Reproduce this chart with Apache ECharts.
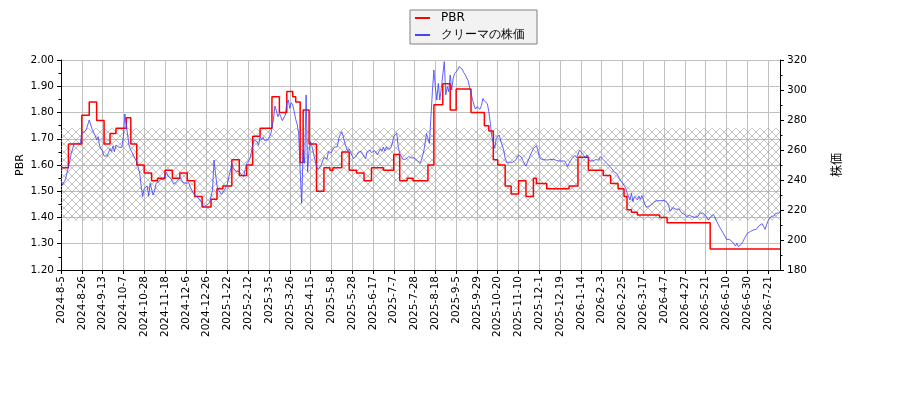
<!DOCTYPE html>
<html>
<head>
<meta charset="utf-8">
<script src="https://cdn.jsdelivr.net/npm/echarts@6/dist/echarts.min.js"></script>
<style>
html,body{margin:0;padding:0;background:#fff;}
#chart{width:900px;height:400px;}
</style>
</head>
<body>
<div id="chart"></div>
<script>
// Stock price (daily, trading days from 2024-8-5)
const price = [
240.0,236.7,237.3,240.4,244.4,248.9,253.3,258.2,257.3,264.4,
264.9,264.4,264.0,264.4,271.1,271.6,272.2,273.8,276.7,280.0,
278.9,273.8,274.4,269.6,266.7,268.9,262.7,262.7,258.9,256.0,
255.6,256.0,258.2,261.1,259.1,262.7,258.9,263.3,262.7,261.8,
262.7,261.8,268.9,284.0,276.7,268.9,262.2,260.0,258.9,256.0,
256.0,252.2,251.1,244.4,235.6,228.9,234.4,235.6,236.0,229.3,
237.8,238.9,230.0,232.7,237.8,238.2,238.9,240.4,240.7,240.4,
243.3,245.1,242.7,243.1,241.1,238.9,237.1,236.2,238.9,240.0,
241.8,240.4,238.4,238.4,237.8,237.1,238.2,235.3,233.3,232.2,
229.8,228.9,228.4,227.3,226.0,224.0,222.2,222.2,223.1,222.4,
224.9,226.2,233.3,253.3,244.4,236.2,233.3,232.2,230.4,230.9,
233.3,235.1,237.3,242.2,246.2,250.9,248.0,246.9,245.8,246.2,
245.6,244.0,243.1,242.2,
247.1,251.1,250.2,253.8,257.8,262.7,
266.7,267.3,265.6,263.1,268.9,266.9,268.4,266.4,267.1,266.7,
266.7,270.0,274.4,280.4,289.3,286.2,282.2,284.4,282.2,279.6,
280.0,283.3,291.1,293.3,287.8,291.6,290.0,285.6,280.4,277.1,
271.1,246.7,224.4,260.0,251.1,296.7,245.6,260.0,265.6,262.2,
261.1,253.3,249.3,247.1,247.6,249.6,252.4,255.1,256.0,253.8,
258.9,259.8,258.2,260.4,261.8,261.1,262.2,267.6,270.4,272.2,
268.9,264.9,261.8,259.1,260.7,260.4,256.0,254.2,253.3,256.4,
258.4,258.0,259.1,258.2,255.6,254.2,258.7,257.8,260.0,258.2,
258.7,259.6,258.9,256.9,256.7,260.7,259.1,262.0,259.3,262.2,
260.4,259.6,261.3,264.4,269.1,270.0,271.1,262.2,257.8,256.0,
253.8,252.7,253.8,254.7,255.6,255.6,254.7,255.3,254.7,253.8,
252.7,251.8,251.5,255.0,258.0,264.0,270.9,270.7,264.4,263.8,
298.9,313.3,302.2,293.3,304.4,293.3,301.1,300.0,318.9,296.7,
302.2,298.9,310.0,300.0,307.8,311.1,312.2,313.3,315.6,316.2,
314.0,311.8,310.4,309.6,306.2,302.2,297.8,293.8,290.0,287.3,
288.9,290.0,287.1,289.6,294.4,292.7,293.6,290.9,285.6,277.8,
268.9,270.0,261.1,267.8,268.2,270.0,266.0,265.1,260.0,254.4,
251.8,251.1,251.8,251.1,251.8,251.1,253.1,252.2,256.7,256.7,
255.1,252.7,252.2,249.3,251.8,252.7,256.7,257.8,260.9,262.0,
262.9,260.0,255.6,254.0,255.3,253.6,254.4,253.3,254.2,253.6,
254.0,253.8,253.3,253.3,253.3,252.7,253.3,252.7,253.1,252.7,
251.1,248.9,251.1,252.4,254.4,255.6,256.4,254.9,257.1,260.0,
259.8,257.6,256.2,254.7,256.7,254.7,252.7,253.1,252.7,252.9,
253.6,254.2,253.3,255.6,
255.6,253.6,252.4,251.6,250.4,249.6,
248.7,247.3,245.6,244.4,244.4,242.7,240.7,239.3,238.0,236.4,
234.9,231.8,228.9,226.7,231.1,225.6,228.9,230.0,226.7,229.3,
227.1,229.6,226.9,224.0,221.8,221.6,222.7,223.3,223.8,225.3,
224.4,226.2,226.7,226.2,226.2,226.4,226.4,226.0,225.3,223.3,
219.1,219.8,221.6,220.9,220.4,221.6,220.7,220.7,217.8,218.9,
217.1,215.6,216.0,216.4,216.0,215.6,215.1,215.1,215.6,216.0,
217.8,218.7,218.0,216.9,216.2,214.9,213.3,215.1,216.4,217.1,
215.6,213.3,211.3,209.3,207.5,206.7,204.2,202.4,200.4,200.7,
200.4,199.6,198.7,197.6,196.0,197.8,195.6,196.4,197.3,198.9,
200.9,202.7,204.4,205.6,205.6,206.4,206.7,206.7,207.1,208.4,
209.6,209.1,210.9,210.0,207.1,210.2,212.9,214.0,215.8,216.2,
216.0,217.8,216.7,218.0,218.7
];

// PBR steps: trading-day index where a new value starts, and the value
const pbrStart = [0,5,14,19,24,29,33,37,44,47,51,56,61,65,70,75,80,85,90,95,101,105,109,115,120,125,129,134,142,147,152,156,158,161,163,167,172,177,181,183,189,194,199,204,209,217,224,228,233,237,247,251,257,262,266,276,285,288,291,294,299,303,308,313,318,320,327,342,348,355,365,370,375,379,381,384,388,403,408,437,484];
const pbrValue = [1.59,1.68,1.79,1.84,1.77,1.68,1.72,1.74,1.78,1.68,1.60,1.57,1.54,1.55,1.58,1.55,1.57,1.54,1.48,1.44,1.47,1.51,1.52,1.62,1.56,1.60,1.71,1.74,1.86,1.80,1.88,1.86,1.84,1.61,1.81,1.68,1.50,1.59,1.58,1.59,1.65,1.58,1.57,1.54,1.59,1.58,1.64,1.54,1.55,1.54,1.60,1.83,1.91,1.81,1.89,1.80,1.75,1.73,1.62,1.60,1.52,1.49,1.54,1.48,1.55,1.53,1.51,1.52,1.63,1.58,1.56,1.53,1.51,1.48,1.43,1.42,1.41,1.40,1.38,1.28,1.28];

// Hatched band (PBR range)
const bandRange = [1.39, 1.74];

// Market holidays (TSE) in the period
const holidays = ['2024-08-12','2024-09-16','2024-09-23','2024-10-14','2024-11-04','2024-12-31','2025-01-01','2025-01-02','2025-01-03','2025-01-13','2025-02-11','2025-02-24','2025-03-20','2025-04-29','2025-05-05','2025-05-06','2025-07-21','2025-08-11','2025-09-15','2025-09-23','2025-10-13','2025-11-03','2025-11-24','2025-12-31','2026-01-01','2026-01-02','2026-01-12','2026-02-11','2026-02-23','2026-03-20','2026-04-29','2026-05-04','2026-05-05','2026-05-06','2026-07-20'];

// Build trading-day categories
const dates = [];
(function(){
  const hol = new Set(holidays);
  let d = new Date(Date.UTC(2024,7,5));
  while (dates.length < price.length) {
    const wd = d.getUTCDay();
    const y = d.getUTCFullYear(), m = d.getUTCMonth()+1, dd = d.getUTCDate();
    const key = y + '-' + String(m).padStart(2,'0') + '-' + String(dd).padStart(2,'0');
    if (wd !== 0 && wd !== 6 && !hol.has(key)) dates.push(y + '-' + m + '-' + dd);
    d = new Date(d.getTime() + 86400000);
  }
})();

const pbrData = pbrStart.map((s,i) => [dates[s], pbrValue[i]]);

// hatch pattern
const hatch = document.createElement('canvas');
hatch.width = 8; hatch.height = 8;
(function(){
  const c = hatch.getContext('2d');
  c.strokeStyle = '#a8a8a8';
  c.lineWidth = 0.7;
  c.beginPath();
  c.moveTo(0,0); c.lineTo(8,8);
  c.moveTo(8,0); c.lineTo(0,8);
  c.stroke();
})();

const FONT = 'DejaVu Sans';
const every14 = (idx) => idx % 14 === 0;

const chart = echarts.init(document.getElementById('chart'));
chart.setOption({
  animation: false,
  backgroundColor: '#ffffff',
  grid: { left: 61, right: 120, top: 60, bottom: 130 },
  legend: {
    orient: 'vertical', left: 410, top: 10,
    backgroundColor: '#f2f2f2', borderColor: '#808080', borderWidth: 1, borderRadius: 0,
    padding: [2, 12, 3, 5], itemGap: 5, itemWidth: 15, itemHeight: 2,
    textStyle: { fontFamily: FONT, fontSize: 12, color: '#000', padding: [0,0,0,6] },
    data: [{ name: 'PBR', icon: 'rect' }, { name: 'クリーマの株価', icon: 'rect' }]
  },
  xAxis: {
    type: 'category', data: dates, boundaryGap: false,
    axisLine: { lineStyle: { color: '#000', width: 1 } },
    axisTick: { interval: every14, length: 4, lineStyle: { color: '#000' } },
    axisLabel: { interval: every14, rotate: 90, fontFamily: FONT, fontSize: 10.5, color: '#000', margin: 6 },
    splitLine: { show: true, interval: every14, lineStyle: { color: '#c0c0c0', width: 1 } }
  },
  yAxis: [
    {
      type: 'value', min: 1.2, max: 2.0, interval: 0.1, position: 'left',
      name: 'PBR', nameLocation: 'middle', nameGap: 35, nameRotate: 90, nameMoveOverlap: false,
      nameTextStyle: { fontFamily: FONT, fontSize: 11, color: '#000' },
      axisLine: { show: true, lineStyle: { color: '#000' } },
      axisTick: { show: true, length: 4, lineStyle: { color: '#000' } },
      minorTick: { show: true, splitNumber: 2, length: 2.5, lineStyle: { color: '#000' } },
      axisLabel: { formatter: v => v.toFixed(2), fontFamily: FONT, fontSize: 10.5, color: '#000', margin: 7 },
      splitLine: { show: true, lineStyle: { color: '#c0c0c0', width: 1 } }
    },
    {
      type: 'value', min: 180, max: 320, interval: 20, position: 'right',
      name: '株価', nameLocation: 'middle', nameGap: 50, nameRotate: 90,
      nameTextStyle: { fontFamily: 'Noto Sans CJK JP', fontSize: 12, color: '#000' },
      axisLine: { show: true, lineStyle: { color: '#000' } },
      axisTick: { show: true, length: 4, lineStyle: { color: '#000' } },
      minorTick: { show: true, splitNumber: 2, length: 2.5, lineStyle: { color: '#000' } },
      axisLabel: { fontFamily: FONT, fontSize: 10.5, color: '#000', margin: 7 },
      splitLine: { show: false }
    }
  ],
  series: [
    {
      name: 'band', type: 'line', yAxisIndex: 0, data: [], z: 1, silent: true,
      markArea: {
        silent: true,
        itemStyle: { color: { image: hatch, repeat: 'repeat' } },
        data: [[{ yAxis: bandRange[0] }, { yAxis: bandRange[1] }]]
      }
    },
    {
      name: 'PBR', type: 'line', yAxisIndex: 0, data: pbrData, step: 'end',
      symbol: 'none', z: 3,
      color: '#ff0000', lineStyle: { color: '#ff0000', width: 1.5 }
    },
    {
      name: 'クリーマの株価', type: 'line', yAxisIndex: 1, data: price,
      symbol: 'none', z: 4,
      color: '#4444ff', lineStyle: { color: '#3a3aff', width: 0.8 }
    }
  ]
});
</script>
</body>
</html>
